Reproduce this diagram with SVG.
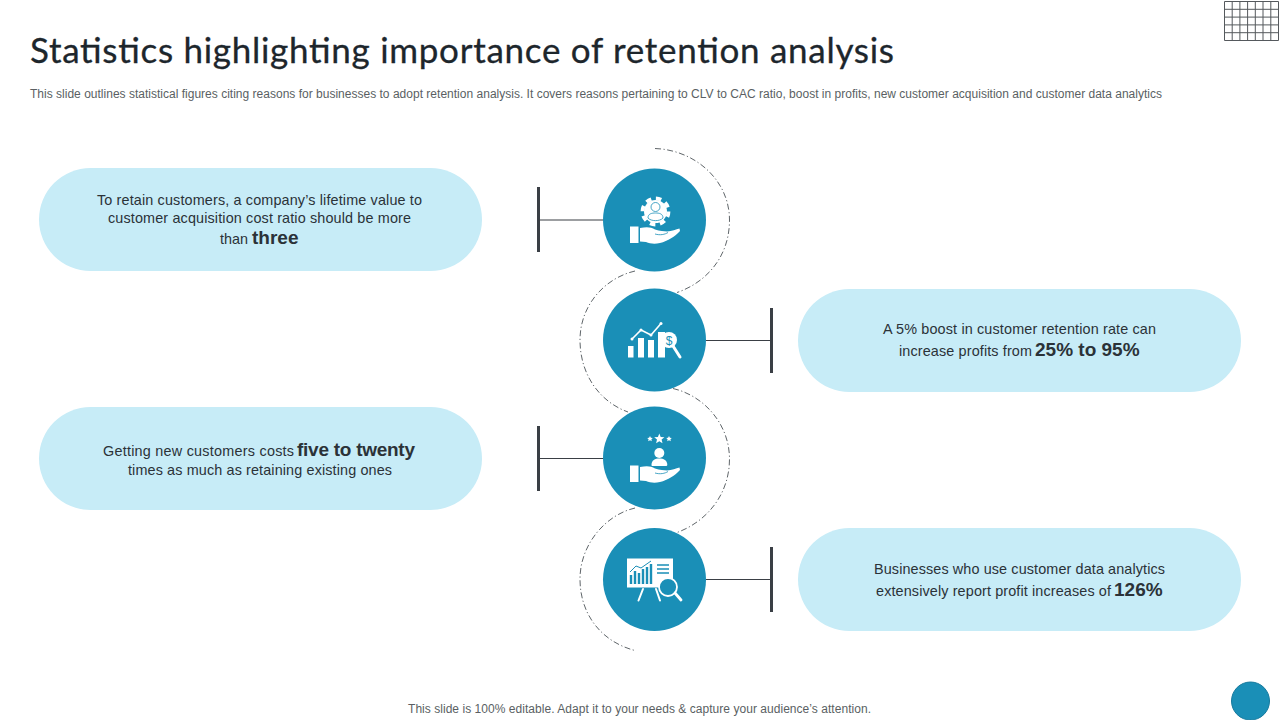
<svg xmlns="http://www.w3.org/2000/svg" xmlns:xlink="http://www.w3.org/1999/xlink" width="1280" height="720" viewBox="0 0 1280 720">
<style>
text{font-family:"Liberation Sans",Arial,sans-serif;fill:#2b3238}
.title{font-family:Lato,"Noto Sans","Liberation Sans",sans-serif;font-size:35px;fill:#1d262c;stroke:#1d262c;stroke-width:.3}
.sub{font-size:12px;fill:#5a5f63}
.t{font-size:14.4px}
.b{font-size:19px;font-weight:bold}
.pill{fill:#c7ecf7}
.disc{fill:#1a8fb7}
.arc{fill:none;stroke:#4d5358;stroke-width:.9;stroke-dasharray:6 2.500 1.200 2.500}
.bar{stroke:#3a3f45;stroke-width:3;fill:none}
.ln{stroke:#3a3f45;stroke-width:1.200;fill:none}
.grid{stroke:#55595d;stroke-width:1;fill:none}
.w{fill:#fff}
.ws{fill:none;stroke:#fff;stroke-width:1.600;stroke-linecap:round}
.bs{fill:none;stroke:#1a8fb7;stroke-width:.8}
</style>
<defs>
<g id="hand">
<rect class="w" x="630" y="226.500" width="8.500" height="16.500"/>
<path class="w" d="M640 228C647 226.500 651 227 655 229.500C660 231 664 231 667 231.500C672 231 676 229.500 679.500 228.500L680 231C675 236.500 668 241 660 243C654 244.500 650 243.500 646 242L640 241.500Z"/>
<path class="bs" d="M655 234C660 235.500 665 234.500 668 232.500"/>
</g>
</defs>
<rect width="1280" height="720" fill="#fff"/>
<g id="template-grid" class="grid"><path d="M1224.500 1.500H1278.500V40.500H1224.500ZM1232.200 1.500V40.500M1239.900 1.500V40.500M1247.600 1.500V40.500M1255.300 1.500V40.500M1263 1.500V40.500M1270.800 1.500V40.500M1224.500 9.300H1278.500M1224.500 17.100H1278.500M1224.500 24.900H1278.500M1224.500 32.700H1278.500"/></g>
<text id="title" class="title" x="30" y="63" textLength="864" lengthAdjust="spacing">Statistics highlighting importance of retention analysis</text>
<text id="subtitle" class="sub" x="30" y="98" textLength="1132" lengthAdjust="spacing">This slide outlines statistical figures citing reasons for businesses to adopt retention analysis. It covers reasons pertaining to CLV to CAC ratio, boost in profits, new customer acquisition and customer data analytics</text>
<g id="connectors">
<path class="arc" d="M655 148.500C695 150 729.500 180 729.500 220C729.500 258 705 283 677 292.500"/>
<path class="arc" d="M635 271C605 278 580 305 580 340C580 375 600 402 628 412"/>
<path class="arc" d="M673 388.500C705 396 729.500 425 729.500 459C729.500 495 706 522 677 532.500"/>
<path class="arc" d="M635 508C605 515 580 545 580 579C580 615 602 642 635 650.500"/>
<path class="bar" d="M538.500 187V252"/><path class="ln" d="M538.500 220H604"/>
<path class="bar" d="M771.500 308V373"/><path class="ln" d="M706 340.500H771.500"/>
<path class="bar" d="M538.500 426V491"/><path class="ln" d="M538.500 458.500H604"/>
<path class="bar" d="M771.500 547V612"/><path class="ln" d="M706 579.500H771.500"/>
</g>
<g id="node-1">
<rect class="pill" x="39" y="168" width="443" height="103" rx="51.500"/>
<text class="t" x="97" y="205" textLength="325">To retain customers, a company’s lifetime value to</text>
<text class="t" x="108" y="223" textLength="303">customer acquisition cost ratio should be more</text>
<text class="t" x="220" y="244">than <tspan class="b" x="252">three</tspan></text>
<circle class="disc" cx="654.500" cy="220" r="51.500"/>
<g id="icon-1">
<circle cx="655.500" cy="211.500" r="11.500" class="w"/>
<circle cx="655.500" cy="211.500" r="13" fill="none" stroke="#fff" stroke-width="3.800" stroke-dasharray="5.500 4.710"/>
<circle cx="655.500" cy="207" r="4.500" class="bs"/>
<path class="bs" d="M648 218C648 213.500 652 213 655.500 213S663 213.500 663 218C660 221.500 651 221.500 648 218Z"/>
<use xlink:href="#hand" href="#hand"/>
</g>
</g>
<g id="node-2">
<rect class="pill" x="798" y="289" width="443" height="103" rx="51.500"/>
<text class="t" x="883" y="334" textLength="273">A 5% boost in customer retention rate can</text>
<text class="t" x="899" y="356"><tspan textLength="133">increase profits from</tspan> <tspan class="b" x="1035">25% to 95%</tspan></text>
<circle class="disc" cx="654.500" cy="340" r="51.500"/>
<g id="icon-2">
<rect class="w" x="628" y="346" width="5.500" height="11.500"/>
<rect class="w" x="638" y="338" width="6" height="19.500"/>
<rect class="w" x="648" y="340" width="6" height="17.500"/>
<path class="w" d="M658 332H665V357.500H658Z"/>
<path class="ws" d="M632 339L641 330L651 335L661 323.500"/>
<circle class="w" cx="632" cy="339" r="1.500"/><circle class="w" cx="641" cy="330" r="1.500"/><circle class="w" cx="651" cy="335" r="1.500"/><circle class="w" cx="661" cy="323.500" r="1.500"/>
<circle class="w" cx="669" cy="340" r="8"/>
<path d="M673 346L680 357" stroke="#fff" stroke-width="3" stroke-linecap="round"/>
<text x="669" y="344.500" text-anchor="middle" style="font-size:12px;fill:#1a8fb7">$</text>
</g>
</g>
<g id="node-3">
<rect class="pill" x="39" y="407" width="443" height="103" rx="51.500"/>
<text class="t" x="103" y="456"><tspan textLength="191">Getting new customers costs</tspan> <tspan class="b" x="297" textLength="118">five to twenty</tspan></text>
<text class="t" x="128" y="475" textLength="264">times as much as retaining existing ones</text>
<circle class="disc" cx="654.500" cy="458" r="51.500"/>
<g id="icon-3">
<path class="w" d="M659.300 433.500l1.400 3.400 3.700.3-2.800 2.400 .9 3.600-3.200-2-3.200 2 .9-3.600-2.800-2.400 3.700-.3Z"/>
<path class="w" d="M650 436l.9 1.700 1.900.3-1.400 1.300 .4 1.900-1.800-.9-1.800 .9 .4-1.900-1.400-1.300 1.900-.3Z"/>
<path class="w" d="M669 436l.9 1.700 1.900.3-1.400 1.300 .4 1.900-1.800-.9-1.800 .9 .4-1.900-1.400-1.300 1.900-.3Z"/>
<circle class="w" cx="659.300" cy="453" r="5"/>
<path class="w" d="M651.500 465C651.500 460 655 458.500 659.300 458.500S667.300 460 667.300 465C667.300 466 666 466 665 466H653C652 466 651.500 466 651.500 465Z"/>
<use xlink:href="#hand" href="#hand" transform="translate(0 239)"/>
</g>
</g>
<g id="node-4">
<rect class="pill" x="798" y="528" width="443" height="103" rx="51.500"/>
<text class="t" x="874" y="574" textLength="291">Businesses who use customer data analytics</text>
<text class="t" x="876" y="596"><tspan textLength="235">extensively report profit increases of</tspan> <tspan class="b" x="1114">126%</tspan></text>
<circle class="disc" cx="654.500" cy="579.500" r="51.500"/>
<g id="icon-4">
<rect class="w" x="627" y="558.500" width="46" height="29"/>
<path d="M631 584V575M635 584V571M639 584V573M643 584V569M647 584V567M651 584V564" stroke="#1a8fb7" stroke-width="2.400" fill="none"/>
<path d="M630 572L636 566L641 568L651 561" stroke="#1a8fb7" stroke-width="1" fill="none"/>
<path d="M657 565H669M657 569H669M657 573H669" stroke="#1a8fb7" stroke-width="1.500" fill="none"/>
<circle cx="668" cy="587" r="9" fill="#1a8fb7" stroke="#fff" stroke-width="1.800"/>
<path d="M675 593L681 600" stroke="#fff" stroke-width="2.800" stroke-linecap="round"/>
<path class="ws" style="stroke-width:2" d="M643 589L638.500 600.500M656 589L660 600.500"/>
</g>
</g>
<text id="footer" x="408" y="713" textLength="463" style="font-size:12px;fill:#5a5f63">This slide is 100% editable. Adapt it to your needs &amp; capture your audience’s attention.</text>
<circle id="corner-dot" class="disc" cx="1250.500" cy="701" r="19" stroke="#167a9e"/>
</svg>
